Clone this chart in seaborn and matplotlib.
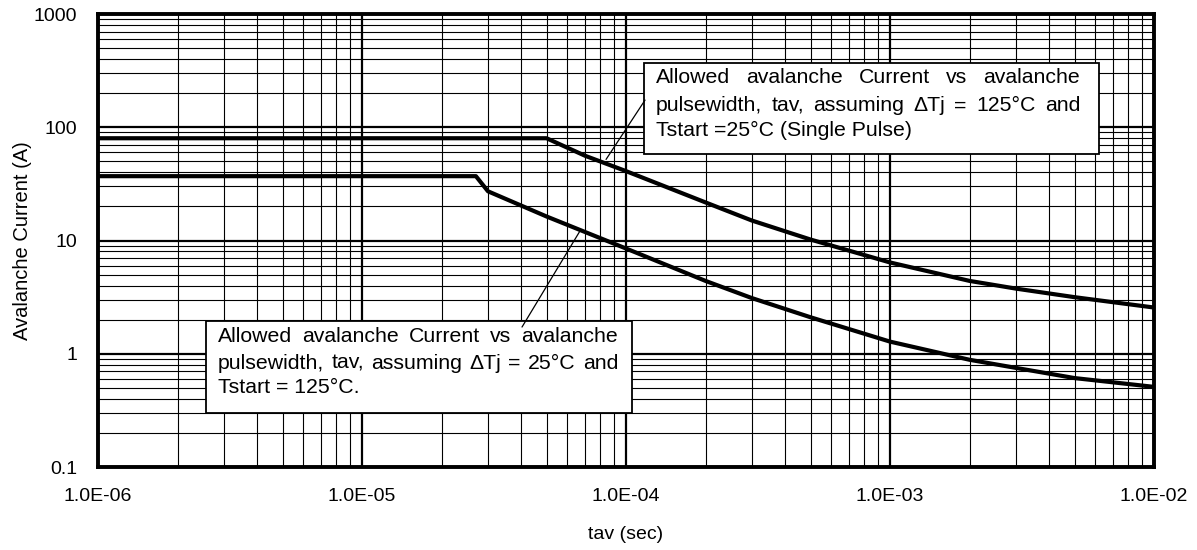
import numpy as np
import matplotlib
matplotlib.use("Agg")
import matplotlib.pyplot as plt
import matplotlib.ticker as mticker
from matplotlib.patches import Rectangle
import seaborn as sns

# values
upper_t = [1e-6, 5e-5, 7e-5, 1e-4, 2e-4, 3e-4, 5e-4, 1e-3, 2e-3, 3e-3, 5e-3, 1e-2]
upper_i = [80, 80, 56, 41, 21.7, 15.0, 10.2, 6.4, 4.4, 3.76, 3.16, 2.56]

lower_t = [1e-6, 2.7e-5, 3e-5, 5e-5, 1e-4, 2e-4, 3e-4, 5e-4, 1e-3, 2e-3, 3e-3, 5e-3, 1e-2]
lower_i = [37, 37, 27.2, 16.3, 8.5, 4.4, 3.1, 2.1, 1.28, 0.885, 0.75, 0.61, 0.51]

x_ticks = [1e-6, 1e-5, 1e-4, 1e-3, 1e-2]
y_ticks = [0.1, 1, 10, 100, 1000]
y_ticklabels = ["0.1", "1", "10", "100", "1000"]

upper_note = ["Allowed avalanche Current vs avalanche",
              "pulsewidth, tav, assuming \u0394Tj = 125\u00b0C and",
              "Tstart =25\u00b0C (Single Pulse)"]
lower_note = ["Allowed avalanche Current vs avalanche",
              "pulsewidth, tav, assuming \u0394Tj = 25\u00b0C and",
              "Tstart = 125\u00b0C."]

sns.set_style("white")
plt.rcParams["font.family"] = ["Liberation Sans", "DejaVu Sans"]
plt.rcParams["text.color"] = "black"
plt.rcParams["axes.labelcolor"] = "black"

fig = plt.figure(figsize=(11.97, 5.5), dpi=100)
ax = fig.add_axes([0.0819, 0.1509, 0.8822, 0.8236])

sns.lineplot(x=upper_t, y=upper_i, ax=ax, color="black", lw=3, estimator=None, sort=False)
sns.lineplot(x=lower_t, y=lower_i, ax=ax, color="black", lw=3, estimator=None, sort=False)

ax.set_xscale("log")
ax.set_yscale("log")
ax.set_xlim(1e-6, 1e-2)
ax.set_ylim(0.1, 1000)

ax.xaxis.set_major_locator(mticker.FixedLocator(x_ticks))
ax.xaxis.set_major_formatter(mticker.FuncFormatter(lambda v, p: "%.1E" % v))
ax.xaxis.set_minor_locator(mticker.LogLocator(base=10, subs=np.arange(2, 10)))
ax.xaxis.set_minor_formatter(mticker.NullFormatter())
ax.yaxis.set_major_locator(mticker.FixedLocator(y_ticks))
ax.yaxis.set_major_formatter(mticker.FixedFormatter(y_ticklabels))
ax.yaxis.set_minor_locator(mticker.LogLocator(base=10, subs=np.arange(2, 10)))
ax.yaxis.set_minor_formatter(mticker.NullFormatter())

ax.grid(True, which="major", color="black", lw=1.6)
ax.grid(True, which="minor", color="black", lw=0.8)
ax.set_axisbelow(True)
ax.tick_params(which="both", length=0, labelsize=14, pad=15, colors="black")
for s in ax.spines.values():
    s.set_visible(True)
    s.set_color("black")
    s.set_linewidth(2.8)

ax.set_xlabel("tav (sec)", fontsize=14)
ax.set_ylabel("Avalanche Current (A)", fontsize=14.5)
ax.xaxis.set_label_coords(0.5, -0.13)
ax.yaxis.set_label_coords(-0.063, 0.5)

# note boxes
for (x0, x1, y0, y1) in [(0.517, 0.948, 0.691, 0.892), (0.102, 0.506, 0.119, 0.322)]:
    ax.add_patch(Rectangle((x0, y0), x1 - x0, y1 - y0, transform=ax.transAxes,
                           facecolor="white", edgecolor="black", lw=1.3, zorder=5))

# leader lines
ax.annotate("", xy=(8.4e-5, 52), xycoords="data", xytext=(0.518, 0.810),
            textcoords="axes fraction",
            arrowprops=dict(arrowstyle="-", color="black", lw=0.9, shrinkA=0, shrinkB=0),
            zorder=6)
ax.annotate("", xy=(6.7e-5, 12.2), xycoords="data", xytext=(0.4015, 0.309),
            textcoords="axes fraction",
            arrowprops=dict(arrowstyle="-", color="black", lw=0.9, shrinkA=0, shrinkB=0),
            zorder=6)


def justified(lines, x0, x1, ys, size=15.3):
    r = fig.canvas.get_renderer()
    axw = ax.get_window_extent(r).width
    for k, (line, y) in enumerate(zip(lines, ys)):
        if k == len(lines) - 1:
            ax.text(x0, y, line, transform=ax.transAxes, fontsize=size, va="center",
                    ha="left", zorder=7)
            continue
        words = line.split(" ")
        texts = [ax.text(x0, y, w, transform=ax.transAxes, fontsize=size,
                         va="center", ha="left", zorder=7) for w in words]
        widths = [t.get_window_extent(r).width for t in texts]
        gap = ((x1 - x0) * axw - sum(widths)) / (len(words) - 1)
        pos = x0 * axw
        for t, w in zip(texts, widths):
            t.set_x(pos / axw)
            pos += w + gap


fig.canvas.draw()
justified(upper_note, 0.528, 0.930, [0.859, 0.797, 0.742])
justified(lower_note, 0.1136, 0.4924, [0.287, 0.2296, 0.1766])

fig.savefig("out.png", dpi=100, facecolor="white")
